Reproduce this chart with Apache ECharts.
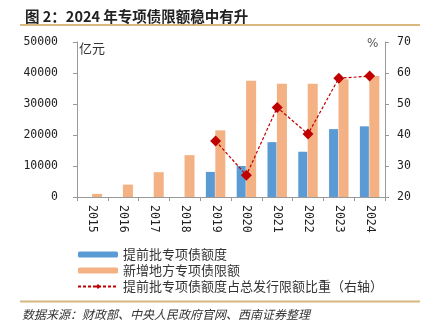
<!DOCTYPE html>
<html><head><meta charset="utf-8">
<script src="https://cdn.jsdelivr.net/npm/echarts@6/dist/echarts.min.js"></script>
<style>html,body{margin:0;padding:0;background:#fff}#c{width:432px;height:335px}</style>
</head><body><div id="c"></div>
<script>
const years = ['2015','2016','2017','2018','2019','2020','2021','2022','2023','2024'];
const advanceQuota = [null,null,null,null,8100,10000,17700,14600,21900,22800];
const newLimit = [1000,4000,8000,13500,21500,37500,36500,36500,38000,39000];
const ratio = [null,null,null,null,38.1,27.0,48.9,40.3,58.3,59.0];
const leftTicks = [0,50000,10000];
const rightTicks = [20,70,10];

const chart = echarts.init(document.getElementById('c'));
const mono = '"DejaVu Sans Mono", monospace';
const cjk = '"Noto Sans CJK SC", sans-serif';
chart.setOption({
  animation:false,
  grid:{left:77,right:47,top:42,bottom:138},
  title:{text:'图 2：2024 年专项债限额稳中有升',left:20,top:4,
    textStyle:{fontFamily:cjk,fontSize:14.5,fontWeight:'bold',color:'#222'}},
  graphic:[
    {type:'line',shape:{x1:20,y1:25,x2:420,y2:25},style:{stroke:'#D8B87F',lineWidth:2}},
    {type:'line',shape:{x1:20,y1:301.5,x2:420,y2:301.5},style:{stroke:'#D8B87F',lineWidth:2}},
    {type:'text',left:22,top:308,style:{text:'数据来源：财政部、中央人民政府官网、西南证券整理',font:'italic 12px "Noto Sans CJK SC"',fill:'#333'}},
    {type:'text',left:79,top:42,style:{text:'亿元',font:'13px "Noto Sans CJK SC"',fill:'#333'}},
    {type:'text',left:367,top:38,style:{text:'%',font:'12px "DejaVu Sans"',fill:'#555'}}
  ],
  legend:{orient:'vertical',left:72,top:243,itemWidth:40,itemHeight:6,itemGap:3,
    textStyle:{fontFamily:cjk,fontSize:13,color:'#333'},
    data:[{name:'提前批专项债额度'},{name:'新增地方专项债限额'},{name:'提前批专项债额度占总发行限额比重（右轴）'}]},
  xAxis:{type:'category',data:years,
    axisLine:{lineStyle:{color:'#999'}},axisTick:{show:true,length:4,lineStyle:{color:'#999'}},
    axisLabel:{rotate:-90,margin:8,fontFamily:mono,fontSize:11.5,color:'#222'}},
  yAxis:[
    {type:'value',min:leftTicks[0],max:leftTicks[1],interval:leftTicks[2],splitLine:{show:false},
     axisLine:{show:true,lineStyle:{color:'#999'}},axisTick:{show:true,length:4,lineStyle:{color:'#999'}},
     axisLabel:{margin:19,fontFamily:mono,fontSize:11.5,color:'#222',formatter:v=>String(v)}},
    {type:'value',min:rightTicks[0],max:rightTicks[1],interval:rightTicks[2],splitLine:{show:false},
     axisLine:{show:true,lineStyle:{color:'#999'}},axisTick:{show:true,length:4,lineStyle:{color:'#999'}},
     axisLabel:{margin:12,fontFamily:mono,fontSize:11.5,color:'#222',formatter:v=>String(v)}}
  ],
  series:[
    {name:'提前批专项债额度',type:'bar',data:advanceQuota,barWidth:9,barGap:'5%',itemStyle:{color:'#5B9BD5'}},
    {name:'新增地方专项债限额',type:'bar',data:newLimit,barWidth:10,itemStyle:{color:'#F4B183'}},
    {name:'提前批专项债额度占总发行限额比重（右轴）',type:'line',yAxisIndex:1,data:ratio,
     symbol:'diamond',symbolSize:11,connectNulls:false,
     lineStyle:{color:'#C00000',width:1.2,type:[3,2]},itemStyle:{color:'#C00000'}}
  ]
});
</script></body></html>
